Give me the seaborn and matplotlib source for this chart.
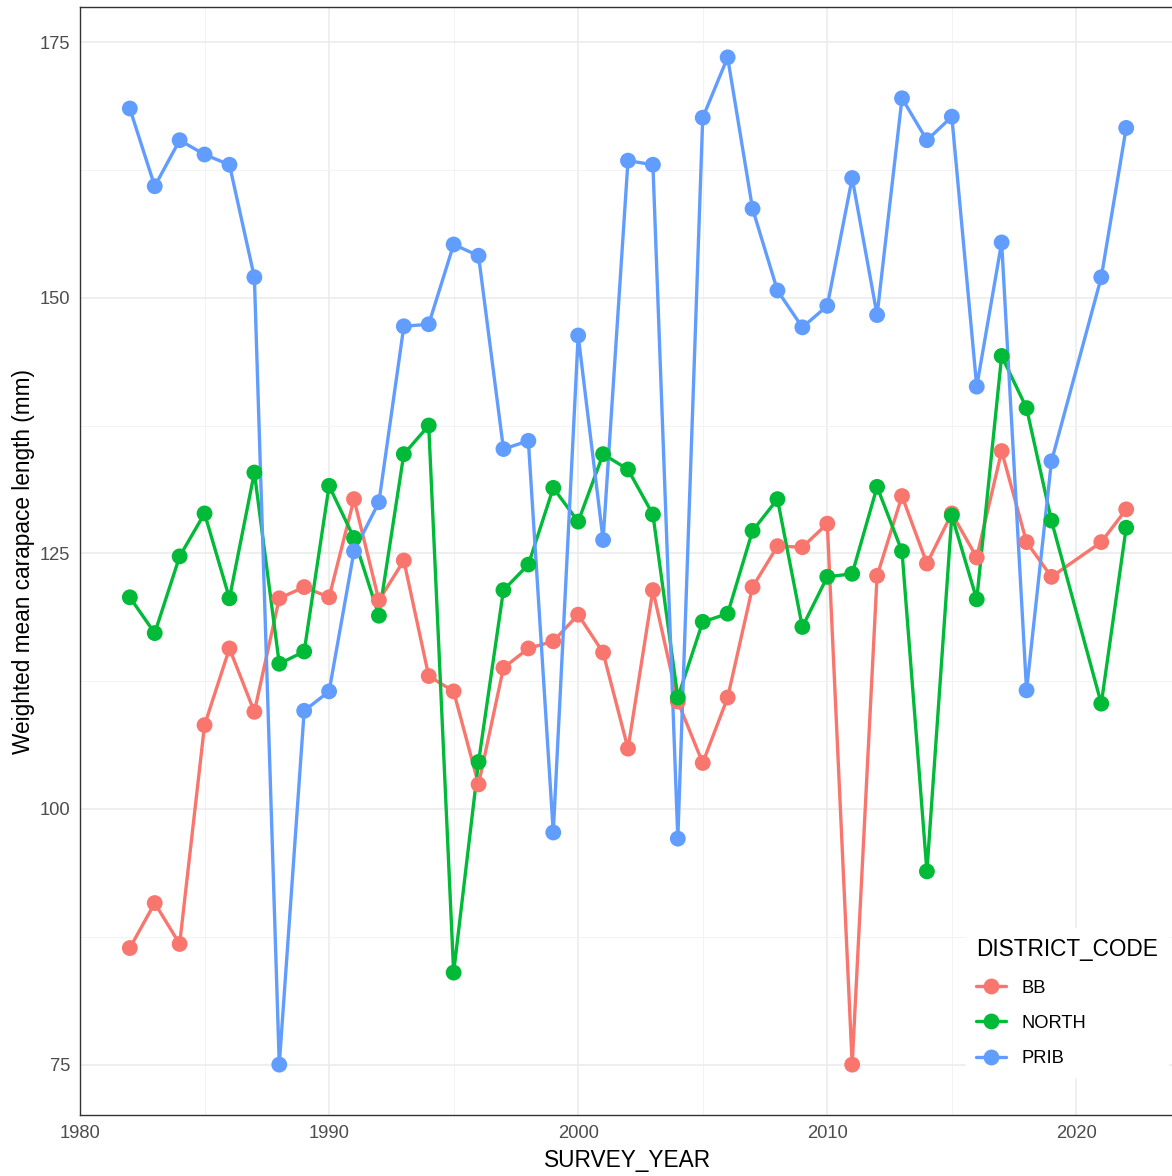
import matplotlib
matplotlib.use("Agg")
import matplotlib.pyplot as plt
from matplotlib.lines import Line2D
import seaborn as sns
import pandas as pd
import numpy as np

years = [1982,1983,1984,1985,1986,1987,1988,1989,1990,1991,1992,1993,1994,1995,1996,1997,1998,1999,2000,2001,2002,2003,2004,2005,2006,2007,2008,2009,2010,2011,2012,2013,2014,2015,2016,2017,2018,2019,2021,2022]
bb = [86.4,90.8,86.8,108.2,115.7,109.5,120.6,121.7,120.7,130.3,120.4,124.3,113.0,111.5,102.4,113.8,115.7,116.4,119.0,115.3,105.9,121.4,110.5,104.5,110.9,121.7,125.7,125.6,127.9,75.0,122.8,130.6,124.0,128.9,124.6,135.0,126.1,122.7,126.1,129.3]
north = [120.7,117.2,124.7,128.9,120.6,132.9,114.2,115.4,131.6,126.5,118.9,134.7,137.5,84.0,104.6,121.4,123.9,131.4,128.1,134.7,133.2,128.8,110.9,118.3,119.1,127.2,130.3,117.8,122.7,123.0,131.5,125.2,93.9,128.7,120.5,144.3,139.2,128.2,110.3,127.5]
prib = [168.5,160.9,165.4,164.0,163.0,152.0,75.0,109.6,111.5,125.2,130.0,147.2,147.4,155.2,154.1,135.2,136.0,97.7,146.3,126.3,163.4,163.0,97.1,167.6,173.5,158.7,150.7,147.1,149.2,161.7,148.3,169.5,165.4,167.7,141.3,155.4,111.6,134.0,152.0,166.6]
districts = ["BB", "NORTH", "PRIB"]
colors = ["#F8766D", "#00BA38", "#619CFF"]
x_ticks = [1980, 1990, 2000, 2010, 2020]
y_ticks = [75, 100, 125, 150, 175]

df = pd.DataFrame({
    "SURVEY_YEAR": years * 3,
    "value": bb + north + prib,
    "DISTRICT_CODE": ["BB"] * len(bb) + ["NORTH"] * len(north) + ["PRIB"] * len(prib),
})

sns.set_theme(style="white")
plt.rcParams["font.family"] = ["Liberation Sans", "DejaVu Sans"]
plt.rcParams["text.color"] = "black"

fig = plt.figure(figsize=(11.72, 11.76), dpi=100)
ax = fig.add_axes([80/1172, 61/1176, 1096/1172, 1108/1176])

palette = dict(zip(districts, colors))
sns.lineplot(data=df, x="SURVEY_YEAR", y="value", hue="DISTRICT_CODE", palette=palette,
             hue_order=districts, lw=2.4, ax=ax, legend=False, zorder=3, sort=True)
sns.scatterplot(data=df, x="SURVEY_YEAR", y="value", hue="DISTRICT_CODE", palette=palette,
                hue_order=districts, s=130, linewidth=0, ax=ax, legend=False, zorder=4)

ax.set_xlim(1980, 2024)
ax.set_ylim(70.075, 178.425)
ax.set_xticks(x_ticks)
ax.set_xticks([1985, 1995, 2005, 2015], minor=True)
ax.set_yticks(y_ticks)
ax.set_yticks([87.5, 112.5, 137.5, 162.5], minor=True)
ax.grid(which="major", color="#EBEBEB", lw=1.1, zorder=0)
ax.grid(which="minor", color="#F3F3F3", lw=0.7, zorder=0)
ax.set_axisbelow(True)

for s in ax.spines.values():
    s.set_color("#333333")
    s.set_linewidth(1.0)
ax.tick_params(which="major", axis="both", direction="out", length=4, width=1.0,
               color="#333333", labelsize=13.2, labelcolor="#4D4D4D", pad=3)
ax.tick_params(which="minor", length=0)

ax.set_xlabel("SURVEY_YEAR", fontsize=16.3, color="black", labelpad=5)
ax.set_ylabel("Weighted mean carapace length (mm)", fontsize=16.3, color="black", labelpad=3)

handles = [Line2D([0], [0], color=c, lw=2.4, marker="o", markersize=11.4, markeredgewidth=0)
           for c in colors]
leg = ax.legend(handles, districts, title="DISTRICT_CODE", loc="upper left",
                bbox_to_anchor=(957/1172, 1 - 919/1176), bbox_transform=fig.transFigure,
                frameon=True, facecolor="white", edgecolor="white", framealpha=1,
                fontsize=13.2, title_fontsize=16.3, alignment="left", handlelength=1.6,
                labelspacing=1.0, borderpad=0.55, handletextpad=0.85, fancybox=False)
leg.get_title().set_color("black")
for t in leg.get_texts():
    t.set_color("black")
leg.set_zorder(10)

fig.savefig("out.png", dpi=100)
